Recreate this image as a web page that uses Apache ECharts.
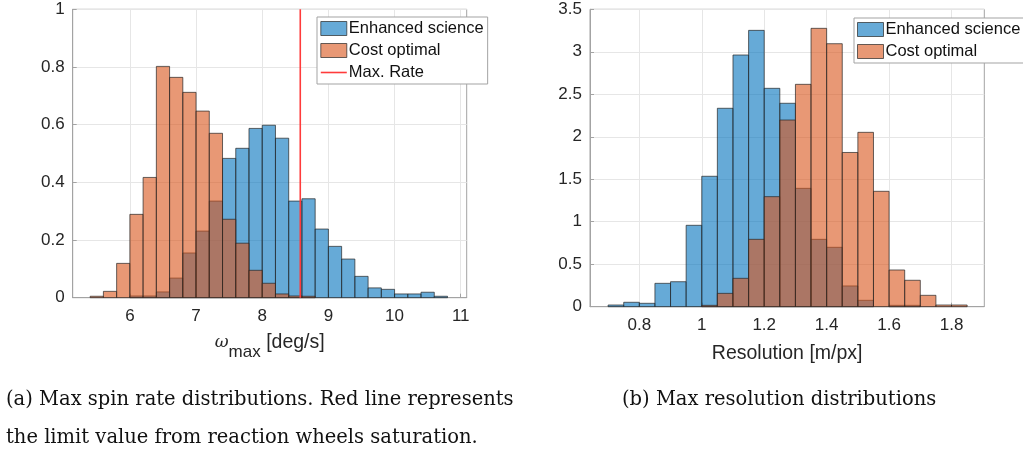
<!DOCTYPE html>
<html>
<head>
<meta charset="utf-8">
<script src="https://cdn.jsdelivr.net/npm/echarts@6/dist/echarts.min.js"></script>
<style>
  html, body { margin: 0; padding: 0; background: #fff; }
  #chart { width: 1023px; height: 450px; }
</style>
</head>
<body>
<div id="chart"></div>
<script>
// (a) spin rate histogram, bins of 0.2 deg/s starting at 5.4
const spinBinStart = 5.4;
const spinBinWidth = 0.2;
const spinEnhanced = [0, 0, 0, 0.006, 0.006, 0.020, 0.068, 0.155, 0.231, 0.335, 0.483, 0.518, 0.587, 0.598,
  0.553, 0.335, 0.343, 0.238, 0.178, 0.134, 0.074, 0.034, 0.029, 0.013, 0.013, 0.019, 0.005];
const spinCost = [0.005, 0.022, 0.119, 0.289, 0.417, 0.802, 0.764, 0.712, 0.647, 0.570, 0.272, 0.189, 0.095,
  0.050, 0.013, 0.006, 0.005, 0, 0, 0, 0, 0, 0, 0, 0, 0, 0];
const maxRate = 8.575;
const spinTicks = [6, 7, 8, 9, 10, 11];

// (b) resolution histogram, bins of 0.05 m/px starting at 0.7
const resBinStart = 0.7;
const resBinWidth = 0.05;
const resEnhanced = [0.020, 0.052, 0.040, 0.275, 0.294, 0.958, 1.535, 2.335, 2.962, 3.252, 2.570, 2.394,
  1.393, 0.793, 0.699, 0.244, 0.075, 0, 0.016, 0.016, 0, 0, 0];
const resCost = [0, 0, 0, 0, 0, 0, 0.016, 0.157, 0.334, 0.793, 1.295, 2.197, 2.617, 3.276, 3.095, 1.815,
  2.052, 1.358, 0.432, 0.311, 0.134, 0.020, 0.020];
const resTicks = [0.8, 1, 1.2, 1.4, 1.6, 1.8];

const BLUE = 'rgba(0,114,189,0.6)';
const ORANGE = 'rgba(217,83,25,0.6)';
const EDGE = 'rgba(38,38,38,0.7)';
const RED = '#ff3b3b';
const AXIS = '#a3a3a3';
const TXT = '#262626';
const SANS = '"Liberation Sans", Arial, sans-serif';
const SERIF = '19.5px "DejaVu Serif", serif';

function bins(start, width, values) {
  const out = [];
  values.forEach((v, i) => {
    if (v > 0) out.push([start + i * width, start + (i + 1) * width, v]);
  });
  return out;
}

function renderBin(params, api) {
  const top = api.coord([api.value(0), api.value(2)]);
  const bot = api.coord([api.value(1), 0]);
  return {
    type: 'rect',
    shape: { x: top[0], y: top[1], width: bot[0] - top[0], height: bot[1] - top[1] },
    style: api.style()
  };
}

function histSeries(name, idx, data, color) {
  return {
    name: name,
    type: 'custom',
    xAxisIndex: idx,
    yAxisIndex: idx,
    renderItem: renderBin,
    encode: { x: [0, 1], y: 2 },
    itemStyle: { color: color, borderColor: EDGE, borderWidth: 1 },
    data: data
  };
}

function xAxisFor(idx, min, max, ticks, split, name, gap) {
  return {
    type: 'value',
    gridIndex: idx,
    min: min,
    max: max,
    splitNumber: split,
    name: name,
    nameLocation: 'middle',
    nameGap: gap,
    axisLine: { lineStyle: { color: AXIS } },
    axisTick: { inside: true, length: 4, customValues: ticks, lineStyle: { color: AXIS } },
    axisLabel: { customValues: ticks, color: TXT, fontFamily: SANS, fontSize: 17, margin: 10 },
    splitLine: { show: true, lineStyle: { color: '#e6e6e6' } }
  };
}

function yAxisFor(idx, max, interval) {
  return {
    type: 'value',
    gridIndex: idx,
    min: 0,
    max: max,
    interval: interval,
    axisLine: { show: true, lineStyle: { color: AXIS } },
    axisTick: { show: true, inside: true, length: 4, lineStyle: { color: AXIS } },
    axisLabel: { color: TXT, fontFamily: SANS, fontSize: 17, margin: 8 },
    splitLine: { show: true, lineStyle: { color: '#e6e6e6' } }
  };
}

function legendFor(left, top, names) {
  return {
    orient: 'vertical',
    left: left,
    top: top,
    padding: [3, 4, 3, 3],
    itemGap: 5,
    itemWidth: 26,
    itemHeight: 14,
    backgroundColor: '#fff',
    borderColor: AXIS,
    borderWidth: 1,
    borderRadius: 0,
    selectedMode: false,
    textStyle: { color: '#111', fontFamily: SANS, fontSize: 16.5, lineHeight: 17, padding: [0, 0, 0, -3] },
    data: names
  };
}

const blueKey = { name: 'Enhanced science', icon: 'rect', itemStyle: { color: BLUE, borderColor: EDGE, borderWidth: 1 } };
const orangeKey = { name: 'Cost optimal', icon: 'rect', itemStyle: { color: ORANGE, borderColor: EDGE, borderWidth: 1 } };
const rateKey = { name: 'Max. Rate', itemStyle: { opacity: 0, borderWidth: 0 }, lineStyle: { color: RED, width: 1.6 } };

const chart = echarts.init(document.getElementById('chart'));

const option = {
  animation: false,
  backgroundColor: '#fff',
  grid: [
    { left: 72.7, right: 556.3, top: 9.3, bottom: 152.3, show: true, borderColor: AXIS, borderWidth: 1, backgroundColor: '#fff' },
    { left: 590, right: 38.7, top: 9.3, bottom: 143.3, show: true, borderColor: AXIS, borderWidth: 1, backgroundColor: '#fff' }
  ],
  xAxis: [
    Object.assign(xAxisFor(0, 5.136, 11.09, spinTicks, 5, '{w|ω}{s|max}{t| [deg/s]}', 41), {
      nameTextStyle: {
        rich: {
          w: { fontFamily: '"DejaVu Serif", serif', fontStyle: 'italic', fontSize: 17, color: TXT, lineHeight: 18, padding: [0, 0, 10, 0] },
          s: { fontFamily: SANS, fontSize: 17, color: TXT, lineHeight: 18, padding: [10, 0, 0, 0] },
          t: { fontFamily: SANS, fontSize: 19.5, color: TXT, lineHeight: 18, padding: [0, 0, 10, 0] }
        }
      }
    }),
    Object.assign(xAxisFor(1, 0.642, 1.905, resTicks, 6, 'Resolution [m/px]', 37), {
      nameTextStyle: { fontFamily: SANS, fontSize: 19.5, color: TXT }
    })
  ],
  yAxis: [yAxisFor(0, 1, 0.2), yAxisFor(1, 3.5, 0.5)],
  legend: [
    legendFor(317, 17, [blueKey, orangeKey, rateKey]),
    legendFor(854, 18, [blueKey, orangeKey])
  ],
  series: [
    histSeries('Enhanced science', 0, bins(spinBinStart, spinBinWidth, spinEnhanced), BLUE),
    histSeries('Cost optimal', 0, bins(spinBinStart, spinBinWidth, spinCost), ORANGE),
    {
      name: 'Max. Rate',
      type: 'line',
      xAxisIndex: 0,
      yAxisIndex: 0,
      symbol: 'none',
      z: 5,
      lineStyle: { color: RED, width: 1.6 },
      itemStyle: { color: RED },
      data: [[maxRate, 0], [maxRate, 1]]
    },
    histSeries('Enhanced science', 1, bins(resBinStart, resBinWidth, resEnhanced), BLUE),
    histSeries('Cost optimal', 1, bins(resBinStart, resBinWidth, resCost), ORANGE)
  ],
  graphic: [
    { type: 'text', left: 6, top: 390, style: { text: '(a) Max spin rate distributions. Red line represents', font: SERIF, fill: '#111' } },
    { type: 'text', left: 6, top: 428, style: { text: 'the limit value from reaction wheels saturation.', font: SERIF, fill: '#111' } },
    { type: 'text', left: 622, top: 390, style: { text: '(b) Max resolution distributions', font: SERIF, fill: '#111' } }
  ]
};

chart.setOption(option);
</script>
</body>
</html>
